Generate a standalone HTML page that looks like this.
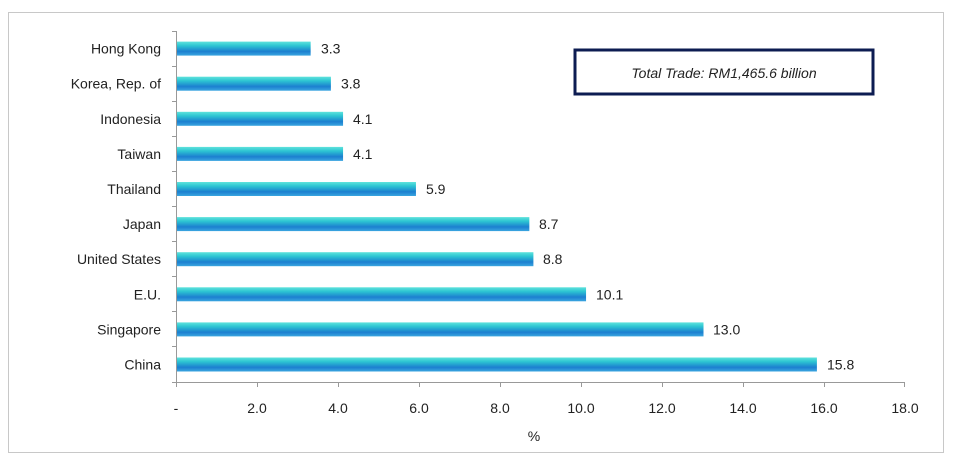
<!DOCTYPE html>
<html><head><style>
body{margin:0;background:#fff;}
svg text{font-family:"Liberation Sans",sans-serif;fill:#222;}
</style></head><body>
<svg width="960" height="460" xmlns="http://www.w3.org/2000/svg">
<defs>
<linearGradient id="g" x1="0" y1="0" x2="0" y2="1">
<stop offset="0" stop-color="#5fe3dc"/>
<stop offset="0.3" stop-color="#2cc4d2"/>
<stop offset="0.7" stop-color="#1c7fd0"/>
<stop offset="1" stop-color="#3aa6e0"/>
</linearGradient>
</defs>
<rect x="8.5" y="12.5" width="935" height="440" fill="#fff" stroke="#c8c8c8" stroke-width="1"/>
<rect x="575" y="50" width="298" height="44" fill="#fff" stroke="#0d1c52" stroke-width="3"/>
<text x="724" y="78" text-anchor="middle" font-size="14" font-style="italic">Total Trade: RM1,465.6 billion</text>
<g fill="url(#g)">
<rect x="177" y="41.6" width="133.65" height="14"/>
<rect x="177" y="76.7" width="153.9" height="14"/>
<rect x="177" y="111.8" width="166.05" height="14"/>
<rect x="177" y="146.9" width="166.05" height="14"/>
<rect x="177" y="182.0" width="238.95" height="14"/>
<rect x="177" y="217.1" width="352.35" height="14"/>
<rect x="177" y="252.2" width="356.4" height="14"/>
<rect x="177" y="287.3" width="409.05" height="14"/>
<rect x="177" y="322.4" width="526.5" height="14"/>
<rect x="177" y="357.5" width="639.9" height="14"/>
</g>
<g font-size="14" text-anchor="end">
<text x="161" y="53.6">Hong Kong</text>
<text x="161" y="88.7">Korea, Rep. of</text>
<text x="161" y="123.8">Indonesia</text>
<text x="161" y="158.9">Taiwan</text>
<text x="161" y="194.0">Thailand</text>
<text x="161" y="229.1">Japan</text>
<text x="161" y="264.2">United States</text>
<text x="161" y="299.3">E.U.</text>
<text x="161" y="334.4">Singapore</text>
<text x="161" y="369.5">China</text>
</g>
<g font-size="14">
<text x="321" y="53.6">3.3</text>
<text x="341" y="88.7">3.8</text>
<text x="353" y="123.8">4.1</text>
<text x="353" y="158.9">4.1</text>
<text x="426" y="194.0">5.9</text>
<text x="539" y="229.1">8.7</text>
<text x="543" y="264.2">8.8</text>
<text x="596" y="299.3">10.1</text>
<text x="713" y="334.4">13.0</text>
<text x="827" y="369.5">15.8</text>
</g>
<line x1="176.5" y1="31" x2="176.5" y2="382" stroke="#999"/>
<line x1="176" y1="382.5" x2="905" y2="382.5" stroke="#999"/>
<g stroke="#999">
<line x1="172" y1="31.5" x2="177" y2="31.5"/><line x1="172" y1="66.5" x2="177" y2="66.5"/><line x1="172" y1="101.5" x2="177" y2="101.5"/><line x1="172" y1="136.5" x2="177" y2="136.5"/><line x1="172" y1="171.5" x2="177" y2="171.5"/><line x1="172" y1="206.5" x2="177" y2="206.5"/><line x1="172" y1="241.5" x2="177" y2="241.5"/><line x1="172" y1="276.5" x2="177" y2="276.5"/><line x1="172" y1="311.5" x2="177" y2="311.5"/><line x1="172" y1="346.5" x2="177" y2="346.5"/><line x1="172" y1="382.5" x2="177" y2="382.5"/>
<line x1="176.5" y1="382" x2="176.5" y2="387"/><line x1="257.5" y1="382" x2="257.5" y2="387"/><line x1="338.5" y1="382" x2="338.5" y2="387"/><line x1="419.5" y1="382" x2="419.5" y2="387"/><line x1="500.5" y1="382" x2="500.5" y2="387"/><line x1="581.5" y1="382" x2="581.5" y2="387"/><line x1="662.5" y1="382" x2="662.5" y2="387"/><line x1="743.5" y1="382" x2="743.5" y2="387"/><line x1="824.5" y1="382" x2="824.5" y2="387"/><line x1="904.5" y1="382" x2="904.5" y2="387"/>
</g>
<g font-size="14" text-anchor="middle">
<text x="176" y="413">-</text><text x="257" y="413">2.0</text><text x="338" y="413">4.0</text><text x="419" y="413">6.0</text><text x="500" y="413">8.0</text><text x="581" y="413">10.0</text><text x="662" y="413">12.0</text><text x="743" y="413">14.0</text><text x="824" y="413">16.0</text><text x="905" y="413">18.0</text>
<text x="534" y="441">%</text>
</g>
</svg>
</body></html>
